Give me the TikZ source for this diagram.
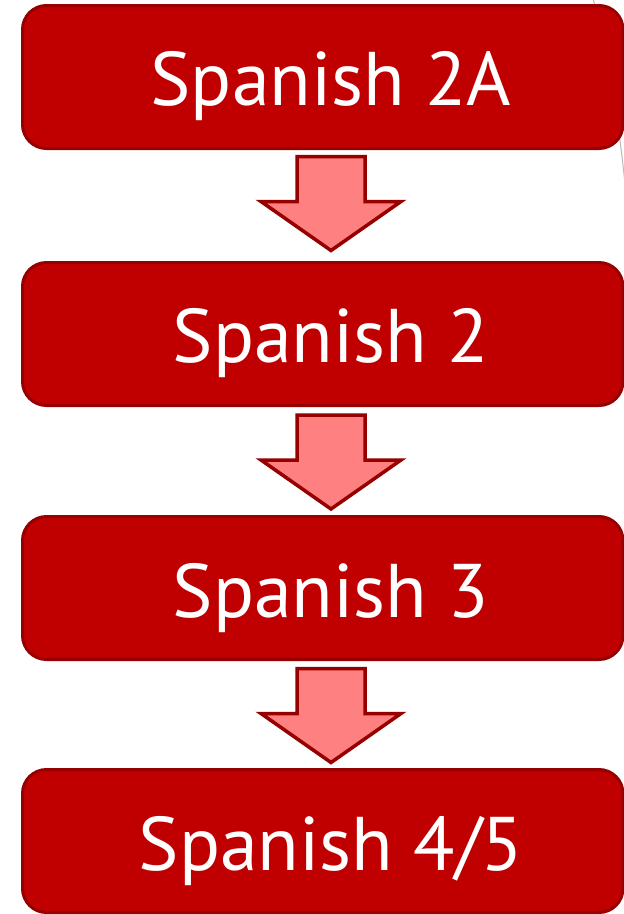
\documentclass[tikz,border=0pt]{standalone}
\usepackage{fontspec}
\setmainfont{PT Sans}
\definecolor{boxfill}{RGB}{192,0,0}
\definecolor{boxline}{RGB}{150,0,0}
\definecolor{arrfill}{RGB}{255,128,128}
\definecolor{arrline}{RGB}{150,0,0}
\tikzset{
  stepbox/.style={draw=boxline, fill=boxfill, line width=3pt, rounded corners=24pt,
    minimum width=600.5pt, minimum height=143pt, inner sep=0pt},
  steptext/.style={text=white, font=\fontsize{76}{80}\selectfont, anchor=base, inner sep=0pt},
  blockarrow/.style={draw=arrline, fill=arrfill, line width=3.5pt, line join=miter},
}
\newcommand{\downblock}[1]{%
  \draw[blockarrow] (#1) ++(-34,0) -- ++(68,0) -- ++(0,45) -- ++(36,0)
    -- ++(-70,49) -- ++(-70,-49) -- ++(36,0) -- cycle;}
\begin{document}
\begin{tikzpicture}[x=1pt,y=-1pt]
\useasboundingbox (0,0) rectangle (624,914);
\fill[white] (0,0) rectangle (624,914);
\coordinate (g1) at (593,-2);
\coordinate (g2) at (628,215);
\draw[gray!55, line width=1pt] (g1) to[bend left=4] (g2);
\node[stepbox] (b1) at (322.75,77) {};
\node[stepbox] (b2) at (322.75,334) {};
\node[stepbox] (b3) at (322.75,588) {};
\node[stepbox] (b4) at (322.75,841) {};
\node[steptext] (t1) at (331,105) {Spanish 2A};
\node[steptext] (t2) at (331,362) {Spanish 2};
\node[steptext] (t3) at (331,617) {Spanish 3};
\node[steptext] (t4) at (331,870) {Spanish 4/5};
\coordinate (a1) at (331,156.5);
\coordinate (a2) at (331,415);
\coordinate (a3) at (331,668.5);
\downblock{a1}
\downblock{a2}
\downblock{a3}
\end{tikzpicture}
\end{document}
